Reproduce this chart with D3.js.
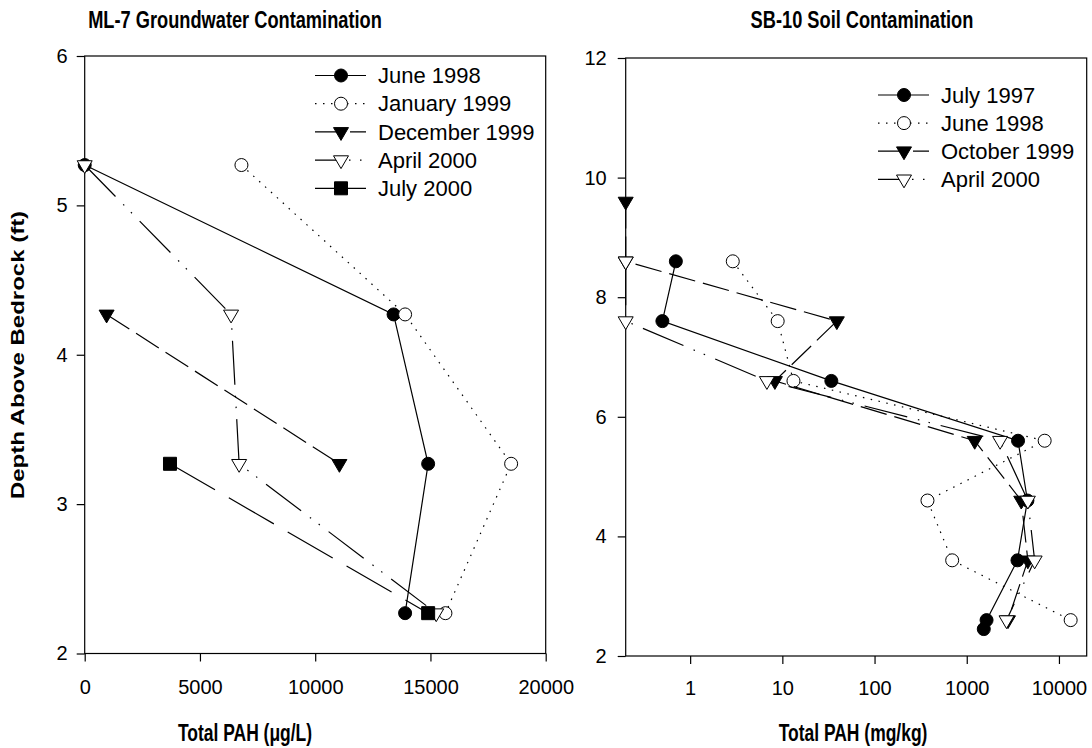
<!DOCTYPE html>
<html><head><meta charset="utf-8">
<script src="https://cdn.jsdelivr.net/npm/d3@7"></script>
<style>
body{margin:0;background:#fff}
svg{display:block}
text{font-family:"Liberation Sans",Arial,Helvetica,sans-serif;fill:#000}
</style>
</head><body>
<svg id="chart" width="1092" height="748"></svg>
<script>
// ML-7 groundwater: Total PAH (µg/L) against depth above bedrock (ft)
const mlLabels = ["June 1998", "January 1999", "December 1999", "April 2000", "July 2000"];
const mlJun98Depth = [5.27, 4.27, 3.27, 2.27];
const mlJun98PAH   = [0, 13400, 14900, 13900];
const mlJan99Depth = [5.27, 4.27, 3.27, 2.27];
const mlJan99PAH   = [6800, 13900, 18500, 15650];
const mlDec99Depth = [4.27, 3.27];
const mlDec99PAH   = [950, 11050];
const mlApr00Depth = [5.27, 4.27, 3.27, 2.27];
const mlApr00PAH   = [0, 6350, 6700, 15250];
const mlJul00Depth = [3.27, 2.27];
const mlJul00PAH   = [3700, 14900];
const mlXTicks = [0, 5000, 10000, 15000, 20000];
const mlYTicks = [2, 3, 4, 5, 6];

// SB-10 soil: Total PAH (mg/kg) against depth above bedrock (ft)
const sbLabels = ["July 1997", "June 1998", "October 1999", "April 2000"];
const sbJul97Depth = [8.6, 7.6, 6.6, 5.6, 4.6, 3.6, 2.6, 2.45];
const sbJul97PAH   = [0.7, 0.5, 34, 3600, 4550, 3550, 1640, 1530];
const sbJun98Depth = [8.6, 7.6, 6.6, 5.6, 4.6, 3.6, 2.6];
const sbJun98PAH   = [2.9, 8.9, 13.2, 7000, 375, 695, 13400];
const sbOct99Depth = [9.6, 8.6, 7.6, 6.6, 5.6, 4.6, 3.6, 2.6];
const sbOct99PAH   = [0.2, 0.2, 39, 8.3, 1220, 3900, 4600, 2800];
const sbApr00Depth = [8.6, 7.6, 6.6, 5.6, 4.6, 3.6, 2.6];
const sbApr00PAH   = [0.2, 0.2, 6.8, 2300, 4600, 5450, 2700];
const sbXTicks = [1, 10, 100, 1000, 10000];
const sbYTicks = [2, 4, 6, 8, 10, 12];

// line and marker styles
const DASH = {
  solid: null,
  dotted: "1.5,6.5",
  medium: "27,8",
  long: "52,16",
  dashDotDot: "44,11,1.5,9.5,1.5,11"
};
const FONT_TICK = 20, FONT_LEGEND = 22, FONT_TITLE = 24, FONT_AXIS = 23;
const NARROW = 0.76;   // horizontal squeeze for the condensed bold headings

const svg = d3.select("#chart");

function markerPath(kind) {
  if (kind === "circle") return d3.symbol(d3.symbolCircle, Math.PI * 6.5 * 6.5)();
  if (kind === "square") return "M-6.5,-6.5H6.5V6.5H-6.5Z";
  // downward triangle
  return "M-7.5,-4.3L7.5,-4.3L0,8.5Z";
}

function drawSeries(g, xs, ys, xScale, yScale, st) {
  const pts = xs.map((v, i) => [xScale(v), yScale(ys[i])]);
  g.append("path")
    .attr("d", d3.line()(pts))
    .attr("fill", "none")
    .attr("stroke", "#000")
    .attr("stroke-width", 1.2)
    .attr("stroke-dasharray", DASH[st.dash]);
  g.selectAll(null).data(pts).enter().append("path")
    .attr("d", markerPath(st.marker))
    .attr("transform", d => `translate(${d[0]},${d[1]})`)
    .attr("fill", st.filled ? "#000" : "#fff")
    .attr("stroke", "#000")
    .attr("stroke-width", 1);
}

function drawLegend(g, x0, y0, step, labels, styles) {
  labels.forEach((lab, i) => {
    const st = styles[i];
    const y = y0 + i * step;
    const row = g.append("g");
    row.append("line")
      .attr("x1", x0).attr("x2", x0 + 51).attr("y1", y).attr("y2", y)
      .attr("stroke", "#000").attr("stroke-width", 1.2)
      .attr("stroke-dasharray", DASH[st.dash])
      .attr("stroke-dashoffset", st.legendOffset || 0);
    row.append("path")
      .attr("d", markerPath(st.marker))
      .attr("transform", `translate(${x0 + 26},${y})`)
      .attr("fill", st.filled ? "#000" : "#fff")
      .attr("stroke", "#000").attr("stroke-width", 1);
    row.append("text")
      .attr("x", x0 + 63).attr("y", y).attr("dy", "0.35em")
      .attr("font-size", FONT_LEGEND)
      .text(lab);
  });
}

function frame(g, x0, x1, y0, y1) {
  g.append("rect")
    .attr("x", x0).attr("y", y0).attr("width", x1 - x0).attr("height", y1 - y0)
    .attr("fill", "none").attr("stroke", "#000").attr("stroke-width", 1.2);
}

function styleAxis(sel) {
  sel.select(".domain").remove();
  sel.selectAll(".tick line").attr("stroke", "#000").attr("stroke-width", 1.2);
  sel.selectAll(".tick text").attr("font-size", FONT_TICK).attr("font-family", null).attr("fill", "#000");
}

// bold condensed heading centred at (cx, baseline)
function heading(cx, base, size, str) {
  svg.append("text")
    .attr("transform", `translate(${cx},${base}) scale(${NARROW},1)`)
    .attr("text-anchor", "middle")
    .attr("font-size", size).attr("font-weight", "bold")
    .text(str);
}

// ---------- left panel: ML-7 ----------
{
  const L = 84.7, R = 545.7, T = 56, B = 653.5;
  const x = d3.scaleLinear().domain([0, 20000]).range([L, R]);
  const y = d3.scaleLinear().domain([2, 6]).range([B, T]);
  const g = svg.append("g");

  g.append("g").attr("transform", `translate(0,${B})`)
    .call(d3.axisBottom(x).tickValues(mlXTicks).tickFormat(d3.format("d")).tickSize(8).tickPadding(18))
    .call(styleAxis);
  g.append("g").attr("transform", `translate(${L},0)`)
    .call(d3.axisLeft(y).tickValues(mlYTicks).tickFormat(d3.format("d")).tickSize(8).tickPadding(9))
    .call(styleAxis);
  frame(g, L, R, T, B);

  const styles = [
    {marker: "circle", filled: true, dash: "solid"},
    {marker: "circle", filled: false, dash: "dotted"},
    {marker: "tri", filled: true, dash: "medium"},
    {marker: "tri", filled: false, dash: "dashDotDot", legendOffset: 21},
    {marker: "square", filled: true, dash: "long"}
  ];
  const sets = [
    [mlJun98PAH, mlJun98Depth], [mlJan99PAH, mlJan99Depth], [mlDec99PAH, mlDec99Depth],
    [mlApr00PAH, mlApr00Depth], [mlJul00PAH, mlJul00Depth]
  ];
  const plot = g.append("g");
  sets.forEach((s, i) => drawSeries(plot.append("g"), s[0], s[1], x, y, styles[i]));

  drawLegend(g, 315, 75.5, 28.2, mlLabels, styles);

  heading(235, 28, FONT_TITLE, "ML-7 Groundwater Contamination");
  heading(245, 741, FONT_AXIS, "Total PAH (μg/L)");
  svg.append("text")
    .attr("transform", `translate(24,355) scale(${NARROW},1) rotate(-90)`)
    .attr("text-anchor", "middle")
    .attr("font-size", FONT_TITLE).attr("font-weight", "bold")
    .text("Depth Above Bedrock (ft)");
}

// ---------- right panel: SB-10 ----------
{
  const L = 625.7, R = 1086.7, T = 58, B = 656;
  const x = d3.scaleLog().domain([0.2, 20000]).range([L, R]);
  const y = d3.scaleLinear().domain([2, 12]).range([B, T]);
  const g = svg.append("g");

  g.append("g").attr("transform", `translate(0,${B})`)
    .call(d3.axisBottom(x).tickValues(sbXTicks).tickFormat(d3.format("d")).tickSize(8).tickPadding(17))
    .call(styleAxis);
  g.append("g").attr("transform", `translate(${L},0)`)
    .call(d3.axisLeft(y).tickValues(sbYTicks).tickFormat(d3.format("d")).tickSize(8).tickPadding(11))
    .call(styleAxis);
  frame(g, L, R, T, B);

  const styles = [
    {marker: "circle", filled: true, dash: "solid"},
    {marker: "circle", filled: false, dash: "dotted"},
    {marker: "tri", filled: true, dash: "medium"},
    {marker: "tri", filled: false, dash: "dashDotDot", legendOffset: 21}
  ];
  const sets = [
    [sbJul97PAH, sbJul97Depth], [sbJun98PAH, sbJun98Depth],
    [sbOct99PAH, sbOct99Depth], [sbApr00PAH, sbApr00Depth]
  ];
  const plot = g.append("g");
  sets.forEach((s, i) => drawSeries(plot.append("g"), s[0], s[1], x, y, styles[i]));

  drawLegend(g, 878, 95, 28.1, sbLabels, styles);

  heading(862, 28, FONT_TITLE, "SB-10 Soil Contamination");
  heading(853, 741, FONT_AXIS, "Total PAH (mg/kg)");
}
</script>
</body></html>
